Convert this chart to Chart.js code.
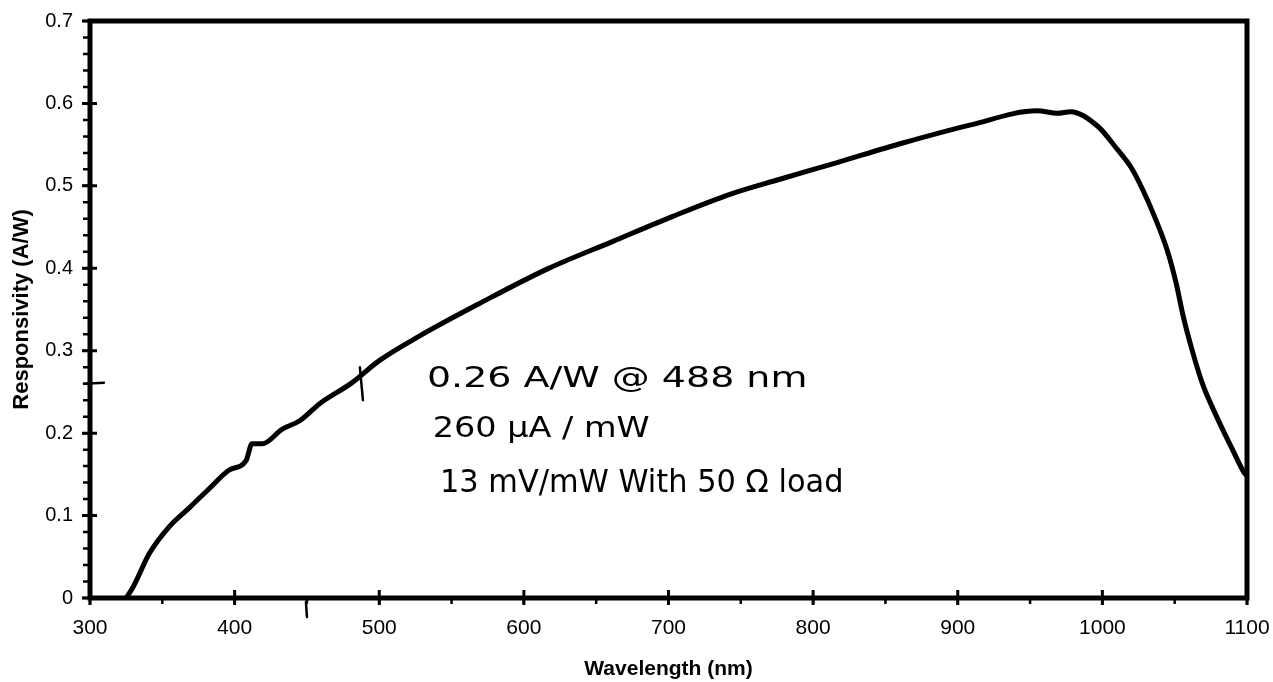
<!DOCTYPE html>
<html>
<head>
<meta charset="utf-8">
<script src="https://cdn.jsdelivr.net/npm/chart.js@4.4.0/dist/chart.umd.min.js"></script>
<style>
html, body { margin: 0; padding: 0; background: #fff; }
#wrap { width: 1273px; height: 682px; }
</style>
</head>
<body>
<div id="wrap"><canvas id="responsivityChart" width="1273" height="682"></canvas></div>
<script>
// Photodiode responsivity vs wavelength

const wavelengths = [325, 330, 341, 355, 369, 382, 396, 408, 412, 419, 433, 445, 459, 481,
    500, 528, 569, 616, 662, 703, 743, 777, 816, 862, 909, 955, 969, 978, 997,
    1010, 1020, 1028, 1036, 1045, 1051, 1056, 1062, 1069, 1079, 1090, 1098, 1100];
const responsivity = [0, 0.014, 0.054, 0.087, 0.110, 0.132, 0.155, 0.167, 0.187, 0.187, 0.205, 0.215, 0.236, 0.261,
    0.288, 0.318, 0.357, 0.399, 0.433, 0.463, 0.490, 0.508, 0.528, 0.552, 0.574, 0.591, 0.588, 0.590, 0.572,
    0.545, 0.522, 0.495, 0.463, 0.421, 0.382, 0.341, 0.301, 0.261, 0.220, 0.180, 0.152, 0.148];

const xTicks = [300, 400, 500, 600, 700, 800, 900, 1000, 1100];
const yTicks = [0, 0.1, 0.2, 0.3, 0.4, 0.5, 0.6, 0.7];
const xMinorStep = 50;
const yMinorStep = 0.02;

// handwritten notes on the printout: text, start/end wavelength, baseline value
const notes = ['0.26 A/W @ 488 nm', '260 µA / mW', '13 mV/mW With 50 Ω load'];
const noteStart = [533, 537, 542];
const noteEnd = [796, 687, 821];
const noteBase = [0.256, 0.195, 0.129];

const points = wavelengths.map((w, i) => ({ x: w, y: responsivity[i] }));

// frame, tick marks and pen marks
const frameAndTicks = {
    id: 'frameAndTicks',
    afterDatasetsDraw(chart) {
        const { ctx, chartArea: a, scales: { x, y } } = chart;
        ctx.save();
        ctx.strokeStyle = '#000';
        ctx.lineCap = 'butt';

        // minor ticks (outside)
        ctx.lineWidth = 2.5;
        ctx.beginPath();
        for (let v = yTicks[0]; v <= yTicks[yTicks.length - 1] + 1e-9; v += yMinorStep) {
            const py = y.getPixelForValue(v);
            ctx.moveTo(a.left - 7, py);
            ctx.lineTo(a.left, py);
        }
        for (let v = xTicks[0]; v <= xTicks[xTicks.length - 1]; v += xMinorStep) {
            const px = x.getPixelForValue(v);
            ctx.moveTo(px, a.bottom);
            ctx.lineTo(px, a.bottom + 6);
        }
        ctx.stroke();

        // major ticks (crossing)
        ctx.lineWidth = 3;
        ctx.beginPath();
        yTicks.forEach(v => {
            const py = y.getPixelForValue(v);
            ctx.moveTo(a.left - 8, py);
            ctx.lineTo(a.left + 7, py);
        });
        xTicks.forEach(v => {
            const px = x.getPixelForValue(v);
            ctx.moveTo(px, a.bottom - 8);
            ctx.lineTo(px, a.bottom + 7);
        });
        ctx.stroke();

        // frame
        ctx.lineWidth = 5;
        ctx.strokeRect(a.left, a.top, a.width, a.height);

        // pen marks
        ctx.lineWidth = 2.5;
        ctx.lineCap = 'round';
        ctx.beginPath();
        const y26 = y.getPixelForValue(0.26);
        ctx.moveTo(a.left - 6, y26);
        ctx.lineTo(a.left + 14, y26 - 1);
        const p488 = x.getPixelForValue(488);
        ctx.moveTo(p488 - 2, y.getPixelForValue(0.28));
        ctx.lineTo(p488 + 1, y.getPixelForValue(0.24));
        const p450 = x.getPixelForValue(450);
        ctx.moveTo(p450 - 1, a.bottom + 4);
        ctx.lineTo(p450, a.bottom + 19);
        ctx.stroke();

        // notes, stretched to the width of the handwriting
        ctx.fillStyle = '#000';
        ctx.textBaseline = 'alphabetic';
        notes.forEach((t, i) => {
            ctx.font = (i === 2 ? '32px' : '29px') + ' "DejaVu Sans"';
            const x0 = x.getPixelForValue(noteStart[i]);
            const w = x.getPixelForValue(noteEnd[i]) - x0;
            const m = ctx.measureText(t).width;
            ctx.save();
            ctx.translate(x0, y.getPixelForValue(noteBase[i]));
            ctx.scale(w / m, 1);
            ctx.fillText(t, 0, 0);
            ctx.restore();
        });
        ctx.restore();
    }
};

const ctx = document.getElementById('responsivityChart');
new Chart(ctx.getContext('2d'), {
    type: 'scatter',
    data: {
        datasets: [{
            label: 'Responsivity',
            data: points,
            showLine: true,
            borderColor: '#000',
            borderWidth: 5,
            pointRadius: 0,
            cubicInterpolationMode: 'monotone',
            fill: false
        }]
    },
    options: {
        responsive: false,
        animation: false,
        layout: {
            padding: { left: 0, top: 21, right: 26, bottom: 0 }
        },
        plugins: {
            legend: { display: false },
            tooltip: { enabled: false }
        },
        scales: {
            x: {
                type: 'linear',
                min: 300,
                max: 1100,
                grid: { display: false, drawTicks: false },
                border: { display: false },
                afterBuildTicks: axis => { axis.ticks = xTicks.map(v => ({ value: v })); },
                afterFit: scale => {
                    scale.height = 84;
                    scale.paddingLeft = 0;
                    scale.paddingRight = 0;
                },
                ticks: {
                    color: '#000',
                    padding: 18,
                    maxRotation: 0,
                    font: { family: '"Liberation Sans", Arial, sans-serif', size: 21 },
                    callback: v => String(v)
                },
                title: {
                    display: true,
                    text: 'Wavelength (nm)',
                    color: '#000',
                    padding: { top: 0, bottom: 0 },
                    font: { family: '"Liberation Sans", Arial, sans-serif', size: 21, weight: 'bold' }
                }
            },
            y: {
                min: 0,
                max: 0.7,
                grid: { display: false, drawTicks: false },
                border: { display: false },
                afterBuildTicks: axis => { axis.ticks = yTicks.map(v => ({ value: v })); },
                afterFit: scale => {
                    scale.width = 90;
                    scale.paddingTop = 0;
                    scale.paddingBottom = 0;
                },
                ticks: {
                    color: '#000',
                    padding: 17,
                    font: { family: '"Liberation Sans", Arial, sans-serif', size: 20 },
                    callback: v => String(Math.round(v * 10) / 10)
                },
                title: {
                    display: true,
                    text: 'Responsivity (A/W)',
                    color: '#000',
                    padding: { top: 9, bottom: 0 },
                    font: { family: '"Liberation Sans", Arial, sans-serif', size: 22, weight: 'bold' }
                }
            }
        }
    },
    plugins: [frameAndTicks]
});
</script>
</body>
</html>
